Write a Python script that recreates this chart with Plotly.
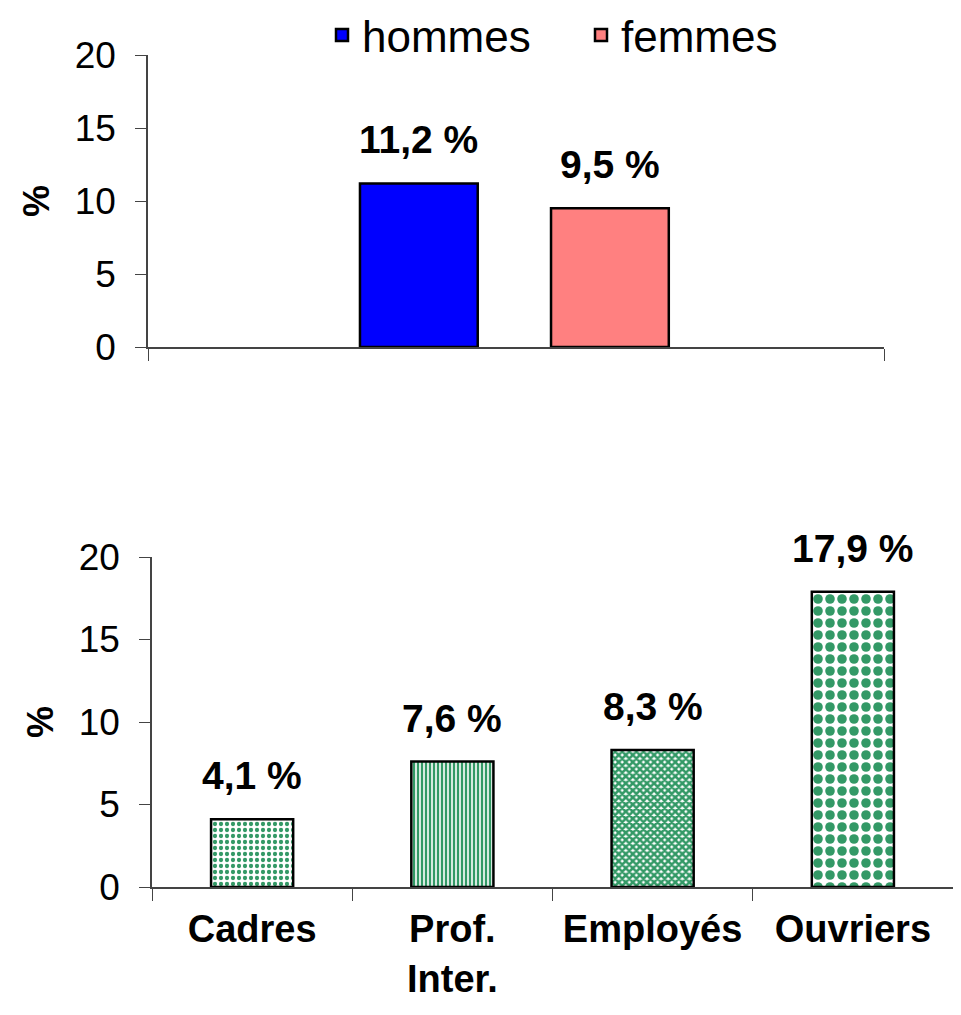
import plotly.graph_objects as go

# ---- data ----
sexes = ["hommes", "femmes"]
sex_values = [11.2, 9.5]
sex_colors = ["#0000FF", "#FF8080"]

categories = ["Cadres", "Prof.<br>Inter.", "Employés", "Ouvriers"]
cat_values = [4.1, 7.6, 8.3, 17.9]

y_ticks = [0, 5, 10, 15, 20]

FONT = "Liberation Sans, Arial, sans-serif"
GREEN = "#339966"

# page offset (body margin) and figure size
OFF = 8
W, H = 945, 999


def px_x(x):
    return min(max((x - OFF) / W, 0), 1)


def px_y(y):
    return min(max(1 - (y - OFF) / H, 0), 1)


fig = go.Figure()

# top chart: one group with two bars
bar_w = 0.16
offsets = [-0.212, 0.0476]
for name, val, col, off in zip(sexes, sex_values, sex_colors, offsets):
    fig.add_trace(go.Bar(
        x=["total"], y=[val], name=name,
        width=[bar_w], offset=[off],
        marker=dict(color=col, line=dict(color="black", width=2.5)),
        xaxis="x", yaxis="y", hoverinfo="skip",
    ))
    fig.add_annotation(
        x=off + bar_w / 2, y=val, xref="x", yref="y",
        text="<b>" + f"{val:.1f}".replace(".", ",") + " %</b>",
        showarrow=False, yanchor="bottom", yshift=20,
        font=dict(family=FONT, size=39, color="black"),
    )

# bottom chart: patterned bars
patterns = [
    dict(shape=".", fgcolor=GREEN, bgcolor="white", size=6, solidity=0.4, fillmode="replace"),
    dict(shape="|", fgcolor=GREEN, bgcolor="white", size=4, solidity=0.6, fillmode="replace"),
    dict(shape="x", fgcolor=GREEN, bgcolor="white", size=5, solidity=0.75, fillmode="replace"),
    dict(shape=".", fgcolor=GREEN, bgcolor="white", size=12, solidity=0.5, fillmode="replace"),
]
for cat, val, pat in zip(categories, cat_values, patterns):
    fig.add_trace(go.Bar(
        x=[cat], y=[val], showlegend=False, width=[0.41],
        marker=dict(color="white", pattern=pat, line=dict(color="black", width=2.5)),
        xaxis="x2", yaxis="y2", hoverinfo="skip",
    ))
    fig.add_annotation(
        x=cat, y=val, xref="x2", yref="y2",
        text="<b>" + f"{val:.1f}".replace(".", ",") + " %</b>",
        showarrow=False, yanchor="bottom", yshift=20,
        font=dict(family=FONT, size=39, color="black"),
    )

axis_common = dict(showgrid=False, zeroline=False, showline=True,
                   linecolor="#444444", linewidth=1.5, automargin=False)

fig.update_layout(
    width=W, height=H,
    margin=dict(l=0, r=0, t=0, b=0, autoexpand=False),
    paper_bgcolor="white", plot_bgcolor="white",
    barmode="group",
    font=dict(family=FONT, color="black"),
    showlegend=True,
    legend=dict(orientation="h", x=px_x(322), y=1.008, xanchor="left", yanchor="top",
                font=dict(family=FONT, size=44), itemwidth=30,
                entrywidth=214, entrywidthmode="pixels",
                bgcolor="rgba(0,0,0,0)"),
    xaxis=dict(domain=[px_x(148), px_x(884)], anchor="y", type="category",
               range=[-0.5, 0.5], tickson="boundaries", ticks="outside",
               ticklen=12, tickcolor="#444444", showticklabels=False,
               **axis_common),
    yaxis=dict(domain=[px_y(347), px_y(55)], anchor="x",
               range=[0, 20], tickvals=y_ticks, ticks="outside", ticklen=11,
               tickcolor="#444444", tickfont=dict(size=37), ticklabelstandoff=12,
               title=dict(text="<b>%</b>", font=dict(size=36), standoff=14),
               **axis_common),
    xaxis2=dict(domain=[px_x(152), px_x(961)], anchor="y2", type="category",
                range=[-0.5, 3.5], tickson="boundaries", ticks="outside",
                ticklen=12, tickcolor="#444444", ticklabelstandoff=8,
                tickfont=dict(size=38, family="Liberation Sans, Arial", weight="bold"),
                **axis_common),
    yaxis2=dict(domain=[px_y(887), px_y(557)], anchor="x2",
                range=[0, 20], tickvals=y_ticks, ticks="outside", ticklen=11,
                tickcolor="#444444", tickfont=dict(size=37), ticklabelstandoff=12,
                title=dict(text="<b>%</b>", font=dict(size=36), standoff=14),
                **axis_common),
)

fig.write_html("out.html")
